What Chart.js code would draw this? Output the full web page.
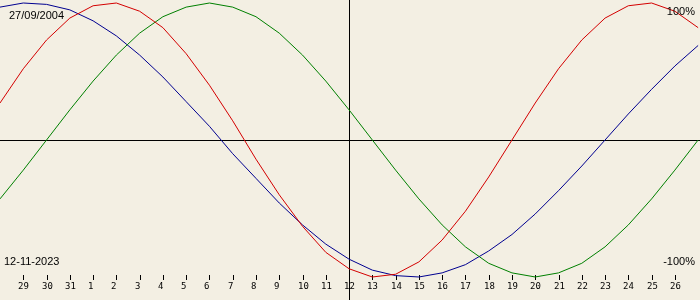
<!DOCTYPE html>
<html>
<head>
<meta charset="utf-8">
<script src="https://cdn.jsdelivr.net/npm/chart.js@4.4.1/dist/chart.umd.min.js"></script>
<style>
  html, body { margin: 0; padding: 0; background: #f3efe3; }
  #wrap { width: 700px; height: 300px; }
</style>
</head>
<body>
<div id="wrap"><canvas id="bio" width="700" height="300"></canvas></div>
<script>
// --- Datos ---
// dias mostrados: 28 oct .. 27 nov (indice 0..30)
const dayLabels = ['28', '29', '30', '31', '1', '2', '3', '4', '5', '6', '7', '8', '9', '10', '11', '12',
  '13', '14', '15', '16', '17', '18', '19', '20', '21', '22', '23', '24', '25', '26', '27'];
const birthDate = '27/09/2004';
const targetDate = '12-11-2023';
const targetIndex = 15;

// valores (-1 .. 1)
const physical = [0.27, 0.52, 0.73, 0.89, 0.98, 1.00, 0.94, 0.82, 0.63, 0.40, 0.14, -0.14, -0.40, -0.63, -0.82, -0.94,
  -1.00, -0.98, -0.89, -0.73, -0.52, -0.27, 0.00, 0.27, 0.52, 0.73, 0.89, 0.98, 1.00, 0.94, 0.82];
const emotional = [-0.43, -0.22, 0.00, 0.22, 0.43, 0.62, 0.78, 0.90, 0.97, 1.00, 0.97, 0.90, 0.78, 0.62, 0.43, 0.22,
  0.00, -0.22, -0.43, -0.62, -0.78, -0.90, -0.97, -1.00, -0.97, -0.90, -0.78, -0.62, -0.43, -0.22, 0.00];
const intellectual = [0.97, 1.00, 0.99, 0.95, 0.87, 0.76, 0.62, 0.46, 0.28, 0.10, -0.10, -0.28, -0.46, -0.62, -0.76, -0.87,
  -0.95, -0.99, -1.00, -0.97, -0.91, -0.81, -0.69, -0.54, -0.37, -0.19, 0.00, 0.19, 0.37, 0.54, 0.69];

const toPoints = arr => arr.map((v, i) => ({ x: i, y: v }));

// --- Plugin para fondo, ejes, marcas y textos ---
const bioDecor = {
  id: 'bioDecor',
  beforeDraw(chart) {
    const { ctx, width, height } = chart;
    ctx.save();
    ctx.fillStyle = '#f3efe3';
    ctx.fillRect(0, 0, width, height);
    ctx.restore();
  },
  beforeDatasetsDraw(chart) {
    const { ctx, width, height, scales: { x, y } } = chart;
    ctx.save();
    ctx.strokeStyle = '#000';
    ctx.lineWidth = 1;
    const y0 = Math.round(y.getPixelForValue(0)) + 0.5;
    const xt = Math.round(x.getPixelForValue(targetIndex)) + 0.5;
    ctx.beginPath();
    ctx.moveTo(0, y0); ctx.lineTo(width, y0);
    ctx.moveTo(xt, 0); ctx.lineTo(xt, height);
    ctx.stroke();

    // marcas de dias
    ctx.font = '9px "DejaVu Sans Mono"';
    ctx.fillStyle = '#000';
    ctx.textAlign = 'left';
    ctx.textBaseline = 'middle';
    for (let i = 1; i < dayLabels.length - 1; i++) {
      const px = Math.round(x.getPixelForValue(i)) + 0.5;
      ctx.beginPath();
      ctx.moveTo(px, 275); ctx.lineTo(px, 280);
      ctx.stroke();
      ctx.fillText(dayLabels[i], px - 5.5, 287);
    }
    ctx.restore();
  },
  afterDatasetsDraw(chart) {
    const { ctx } = chart;
    ctx.save();
    ctx.fillStyle = '#000';
    ctx.font = '11px "Liberation Sans"';
    ctx.textBaseline = 'middle';
    ctx.textAlign = 'left';
    ctx.fillText(birthDate, 9, 16);
    ctx.fillText(targetDate, 4, 262);
    ctx.textAlign = 'right';
    ctx.fillText('100%', 695, 12);
    ctx.fillText('-100%', 695, 262);
    ctx.restore();
  }
};

const lineStyle = color => ({
  borderColor: color,
  borderWidth: 1,
  pointRadius: 0,
  tension: 0,
  fill: false
});

new Chart(document.getElementById('bio'), {
  type: 'line',
  data: {
    datasets: [
      { label: 'Físico', data: toPoints(physical), ...lineStyle('#d40000') },
      { label: 'Emocional', data: toPoints(emotional), ...lineStyle('#008000') },
      { label: 'Intelectual', data: toPoints(intellectual), ...lineStyle('#000090') }
    ]
  },
  options: {
    responsive: false,
    animation: false,
    layout: { padding: 0 },
    plugins: { legend: { display: false }, tooltip: { enabled: false } },
    scales: {
      x: { type: 'linear', min: 0, max: 30.08, display: false },
      y: { min: -1.168, max: 1.022, display: false }
    }
  },
  plugins: [bioDecor]
});
</script>
</body>
</html>
